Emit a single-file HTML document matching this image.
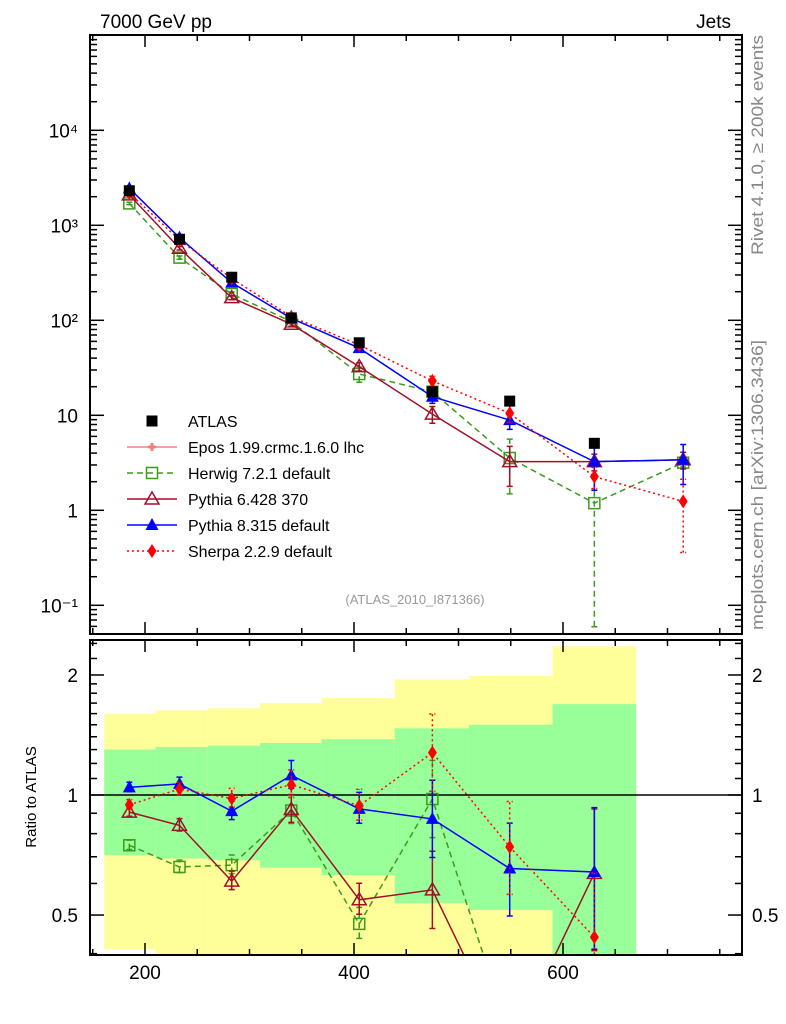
<!DOCTYPE html>
<html><head><meta charset="utf-8"><style>
html,body{margin:0;padding:0;background:#fff;overflow:hidden;width:786px;height:1024px;}
svg{display:block;font-family:"Liberation Sans",sans-serif;}
</style></head><body>
<svg id="c" width="786" height="1024" xmlns="http://www.w3.org/2000/svg">
<g id="bands"></g>
<g id="grid"></g>
<g id="marks"></g>
<rect x="90" y="35" width="652" height="599" fill="none" stroke="#000" stroke-width="2"/>
<rect x="90" y="640" width="652" height="315" fill="none" stroke="#000" stroke-width="2"/>
<text x="100" y="28" font-size="19">7000 GeV pp</text>
<text x="731" y="28" font-size="19" text-anchor="end">Jets</text>
<text transform="translate(763,255) rotate(-90)" font-size="17" fill="#888" textLength="220" lengthAdjust="spacingAndGlyphs">Rivet 4.1.0, ≥ 200k events</text>
<text transform="translate(763,630) rotate(-90)" font-size="17" fill="#888" textLength="290" lengthAdjust="spacingAndGlyphs">mcplots.cern.ch [arXiv:1306.3436]</text>
<text x="415" y="604" font-size="13" fill="#999" text-anchor="middle">(ATLAS_2010_I871366)</text>
<text transform="translate(36,797) rotate(-90)" font-size="15" text-anchor="middle">Ratio to ATLAS</text>
<g id="legend"></g>
</svg>
<script>
const bins = [161,210,260,310,369,439,510,590,670];
const xs = [185,233,283,340,405,475,549,630,715];
const atlas = [2310,713,284,106,58,17.7,14.1,5.07,null];
const herwig = [1700,457,189,97,27.2,17.7,3.55,1.19,3.17];
const pythia6 = [2090,573,173,91,32.5,10.3,3.25,3.25,3.4];
const pythia8 = [2450,741,249,105,51,15.7,8.9,3.25,3.4];
const sherpa = [2190,700,276,109,55,23,10.5,2.26,1.24];
const herwigErr = [0.03,0.04,0.05,0.05,0.18,0.1,0.58,0.95,0.1];
const pythia6Err = [0.03,0.04,0.05,0.05,0.1,0.2,0.45,0.2,0.2];
const pythia8Err = [0.03,0.03,0.05,0.05,0.08,0.15,0.2,0.5,0.45];
const sherpaErr = [0.03,0.05,0.05,0.05,0.07,0.12,0.2,0.25,0.71];
const yellowHi = [1.60,1.63,1.65,1.70,1.75,1.95,1.99,2.36];
const greenHi = [1.30,1.32,1.33,1.35,1.38,1.47,1.50,1.69];
const greenLo = [0.706,0.693,0.686,0.657,0.63,0.535,0.515,0.3];
const yellowLo = [0.41,0.38,0.38,0.38,0.38,0.38,0.38,0.38];
const rHerwig = [0.748,0.66,0.667,0.914,0.475,0.977,0.25,0.23];
const rPythia6 = [0.906,0.839,0.608,0.92,0.546,0.578,0.23,0.636];
const rPythia8 = [1.045,1.066,0.911,1.12,0.923,0.871,0.654,0.641];
const rSherpa = [0.945,1.035,0.98,1.061,0.94,1.277,0.741,0.44];
const rErr = [0.03,0.04,0.06,0.09,0.1,0.25,0.3,0.45];
const xTicks = [200,400,600];
const mainYTicks = [-1,0,1,2,3,4];
const mainYLabels = ["10\u207B\u00B9","1","10","10\u00B2","10\u00B3","10\u2074"];
const ratioTicks = [0.5,1,2];
const ratioLabels = ["0.5","1","2"];

const NS="http://www.w3.org/2000/svg";
const X = x => 145+(x-200)*1.045;
const YM = v => 510.3-95*Math.log10(v);
const YR = r => 795-398.7*Math.log10(r);
function mk(tag, attrs, parent){const e=document.createElementNS(NS,tag);for(const k in attrs)e.setAttribute(k,attrs[k]);(parent||document.getElementById('marks')).appendChild(e);return e;}
const defs=mk('defs',{},document.getElementById('c'));
const cp1=mk('clipPath',{id:'cm'},defs);mk('rect',{x:90,y:35,width:652,height:599},cp1);
const cp2=mk('clipPath',{id:'cr'},defs);mk('rect',{x:90,y:640,width:652,height:315},cp2);

const bg=document.getElementById('bands');
bg.setAttribute('clip-path','url(#cr)');
for(let i=0;i<8;i++){
  const x0=X(bins[i]),x1=X(bins[i+1]);
  const y1=mk('rect',{x:x0,y:YR(yellowHi[i]),width:x1-x0,height:YR(yellowLo[i])-YR(yellowHi[i]),fill:'#ffff99'},bg);
  
  
  const g1=mk('rect',{x:x0,y:YR(greenHi[i]),width:x1-x0,height:YR(greenLo[i])-YR(greenHi[i]),fill:'#99ff99'},bg);
  
  
}
const gr=document.getElementById('grid');
for(let x=150;x<=770;x+=50){
  const big=x%200===0;const L=big?12:6;const px=X(x);
  mk('line',{x1:px,x2:px,y1:634,y2:634-L,stroke:'#000','stroke-width':1.5},gr);
  mk('line',{x1:px,x2:px,y1:35,y2:35+L,stroke:'#000','stroke-width':1.5},gr);
  mk('line',{x1:px,x2:px,y1:955,y2:955-L,stroke:'#000','stroke-width':1.5},gr);
  mk('line',{x1:px,x2:px,y1:640,y2:640+L,stroke:'#000','stroke-width':1.5},gr);
}
xTicks.forEach(t=>{const e=mk('text',{x:X(t),y:979,'font-size':19,'text-anchor':'middle'},gr);e.textContent=t;
  
  });
for(let d=-2;d<=4;d++){for(let m=1;m<10;m++){const v=m*Math.pow(10,d);const y=YM(v);if(y<35||y>634)continue;const L=m===1?14:7;
  mk('line',{x1:90,x2:90+L,y1:y,y2:y,stroke:'#000','stroke-width':1.5},gr);
  mk('line',{x1:742,x2:742-L,y1:y,y2:y,stroke:'#000','stroke-width':1.5},gr);}}
mainYTicks.forEach((d,i)=>{const e=mk('text',{x:78,y:YM(Math.pow(10,d))+7,'font-size':19,'text-anchor':'end'},gr);e.textContent=mainYLabels[i];
  
  });
[0.4,0.5,0.6,0.7,0.8,0.9,1,1.1,1.2,1.3,1.4,1.5,1.6,1.7,1.8,1.9,2,2.2,2.4].forEach(r=>{const y=YR(r);if(y<640||y>955)return;const L=(r===0.5||r===1||r===2)?14:7;
  mk('line',{x1:90,x2:90+L,y1:y,y2:y,stroke:'#000','stroke-width':1.5},gr);
  mk('line',{x1:742,x2:742-L,y1:y,y2:y,stroke:'#000','stroke-width':1.5},gr);});
ratioTicks.forEach((r,i)=>{[78,752].forEach((x,j)=>{const e=mk('text',{x:x,y:YR(r)+7,'font-size':19,'text-anchor':j?'start':'end'},gr);e.textContent=ratioLabels[i];
  
  });});
mk('line',{x1:90,x2:742,y1:YR(1),y2:YR(1),stroke:'#000','stroke-width':1.5},gr);

function marker(type,x,y,col,parent){
  const s=5.5;
  if(type==='sq') return mk('rect',{x:x-s,y:y-s,width:2*s,height:2*s,fill:'#000'},parent);
  if(type==='osq') return mk('rect',{x:x-s,y:y-s,width:2*s,height:2*s,fill:'none',stroke:col,'stroke-width':1.5},parent);
  if(type==='otri') return mk('polygon',{points:`${x},${y-7} ${x-7},${y+5} ${x+7},${y+5}`,fill:'none',stroke:col,'stroke-width':1.5},parent);
  if(type==='tri') return mk('polygon',{points:`${x},${y-7} ${x-6.5},${y+5} ${x+6.5},${y+5}`,fill:col},parent);
  if(type==='dia') return mk('polygon',{points:`${x},${y-7} ${x-4.5},${y} ${x},${y+7} ${x+4.5},${y}`,fill:col},parent);
  if(type==='cross') return mk('path',{d:`M${x-4} ${y}H${x+4}M${x} ${y-4}V${y+4}`,stroke:col,'stroke-width':3},parent);
}
const series=[
 {name:'herwig',v:herwig,e:herwigErr,r:rHerwig,col:'#3c9a1c',dash:'6,4',m:'osq'},
 {name:'pythia6',v:pythia6,e:pythia6Err,r:rPythia6,col:'#a0102a',dash:'',m:'otri'},
 {name:'pythia8',v:pythia8,e:pythia8Err,r:rPythia8,col:'#0000ff',dash:'',m:'tri'},
 {name:'sherpa',v:sherpa,e:sherpaErr,r:rSherpa,col:'#ff0000',dash:'2,3',m:'dia'}];
const gm=mk('g',{'clip-path':'url(#cm)'});
const grr=mk('g',{'clip-path':'url(#cr)'});
series.forEach(s=>{
  const pts=s.v.map((v,i)=>X(xs[i])+','+YM(v)).join(' ');
  const l=mk('polyline',{points:pts,fill:'none',stroke:s.col,'stroke-width':1.5,'stroke-dasharray':s.dash},gm);
  
  
  s.v.forEach((v,i)=>{const x=X(xs[i]);const lo=Math.max(v*(1-s.e[i]),1e-3),hi=v*(1+s.e[i]);
    mk('path',{d:`M${x} ${YM(lo)}V${YM(hi)}M${x-3} ${YM(lo)}h6M${x-3} ${YM(hi)}h6`,stroke:s.col,'stroke-width':1.5,'stroke-dasharray':s.dash},gm);
    const p=marker(s.m,x,YM(v),s.col,gm);
    
    });
  const rp=s.r.map((r,i)=>X(xs[i])+','+YR(r)).join(' ');
  const rl=mk('polyline',{points:rp,fill:'none',stroke:s.col,'stroke-width':1.5,'stroke-dasharray':s.dash},grr);
  
  
  s.r.forEach((r,i)=>{const x=X(xs[i]);const lo=r*(1-rErr[i]*0.8),hi=r*(1+rErr[i]);
    mk('path',{d:`M${x} ${YR(lo)}V${YR(hi)}M${x-3} ${YR(lo)}h6M${x-3} ${YR(hi)}h6`,stroke:s.col,'stroke-width':1.5,'stroke-dasharray':s.dash},grr);
    const p=marker(s.m,x,YR(r),s.col,grr);
    
    });
});
atlas.forEach((v,i)=>{if(v===null)return;const p=marker('sq',X(xs[i]),YM(v),'#000',gm);
  
  });

const lg=document.getElementById('legend');
const leg=[['ATLAS','sq','#000',''],['Epos 1.99.crmc.1.6.0 lhc','cross','#f08080',''],['Herwig 7.2.1 default','osq','#3c9a1c','6,4'],
['Pythia 6.428 370','otri','#a0102a',''],['Pythia 8.315 default','tri','#0000ff',''],['Sherpa 2.2.9 default','dia','#ff0000','2,3']];
leg.forEach((L,i)=>{const y=421+i*26;
  if(i>0) mk('line',{x1:127,x2:177,y1:y,y2:y,stroke:L[2],'stroke-width':1.5,'stroke-dasharray':L[3]},lg);
  marker(L[1],152,y,L[2],lg);
  const t=mk('text',{x:188,y:y+6,'font-size':16},lg);t.textContent=L[0];
  
  });
</script>
</body></html>
